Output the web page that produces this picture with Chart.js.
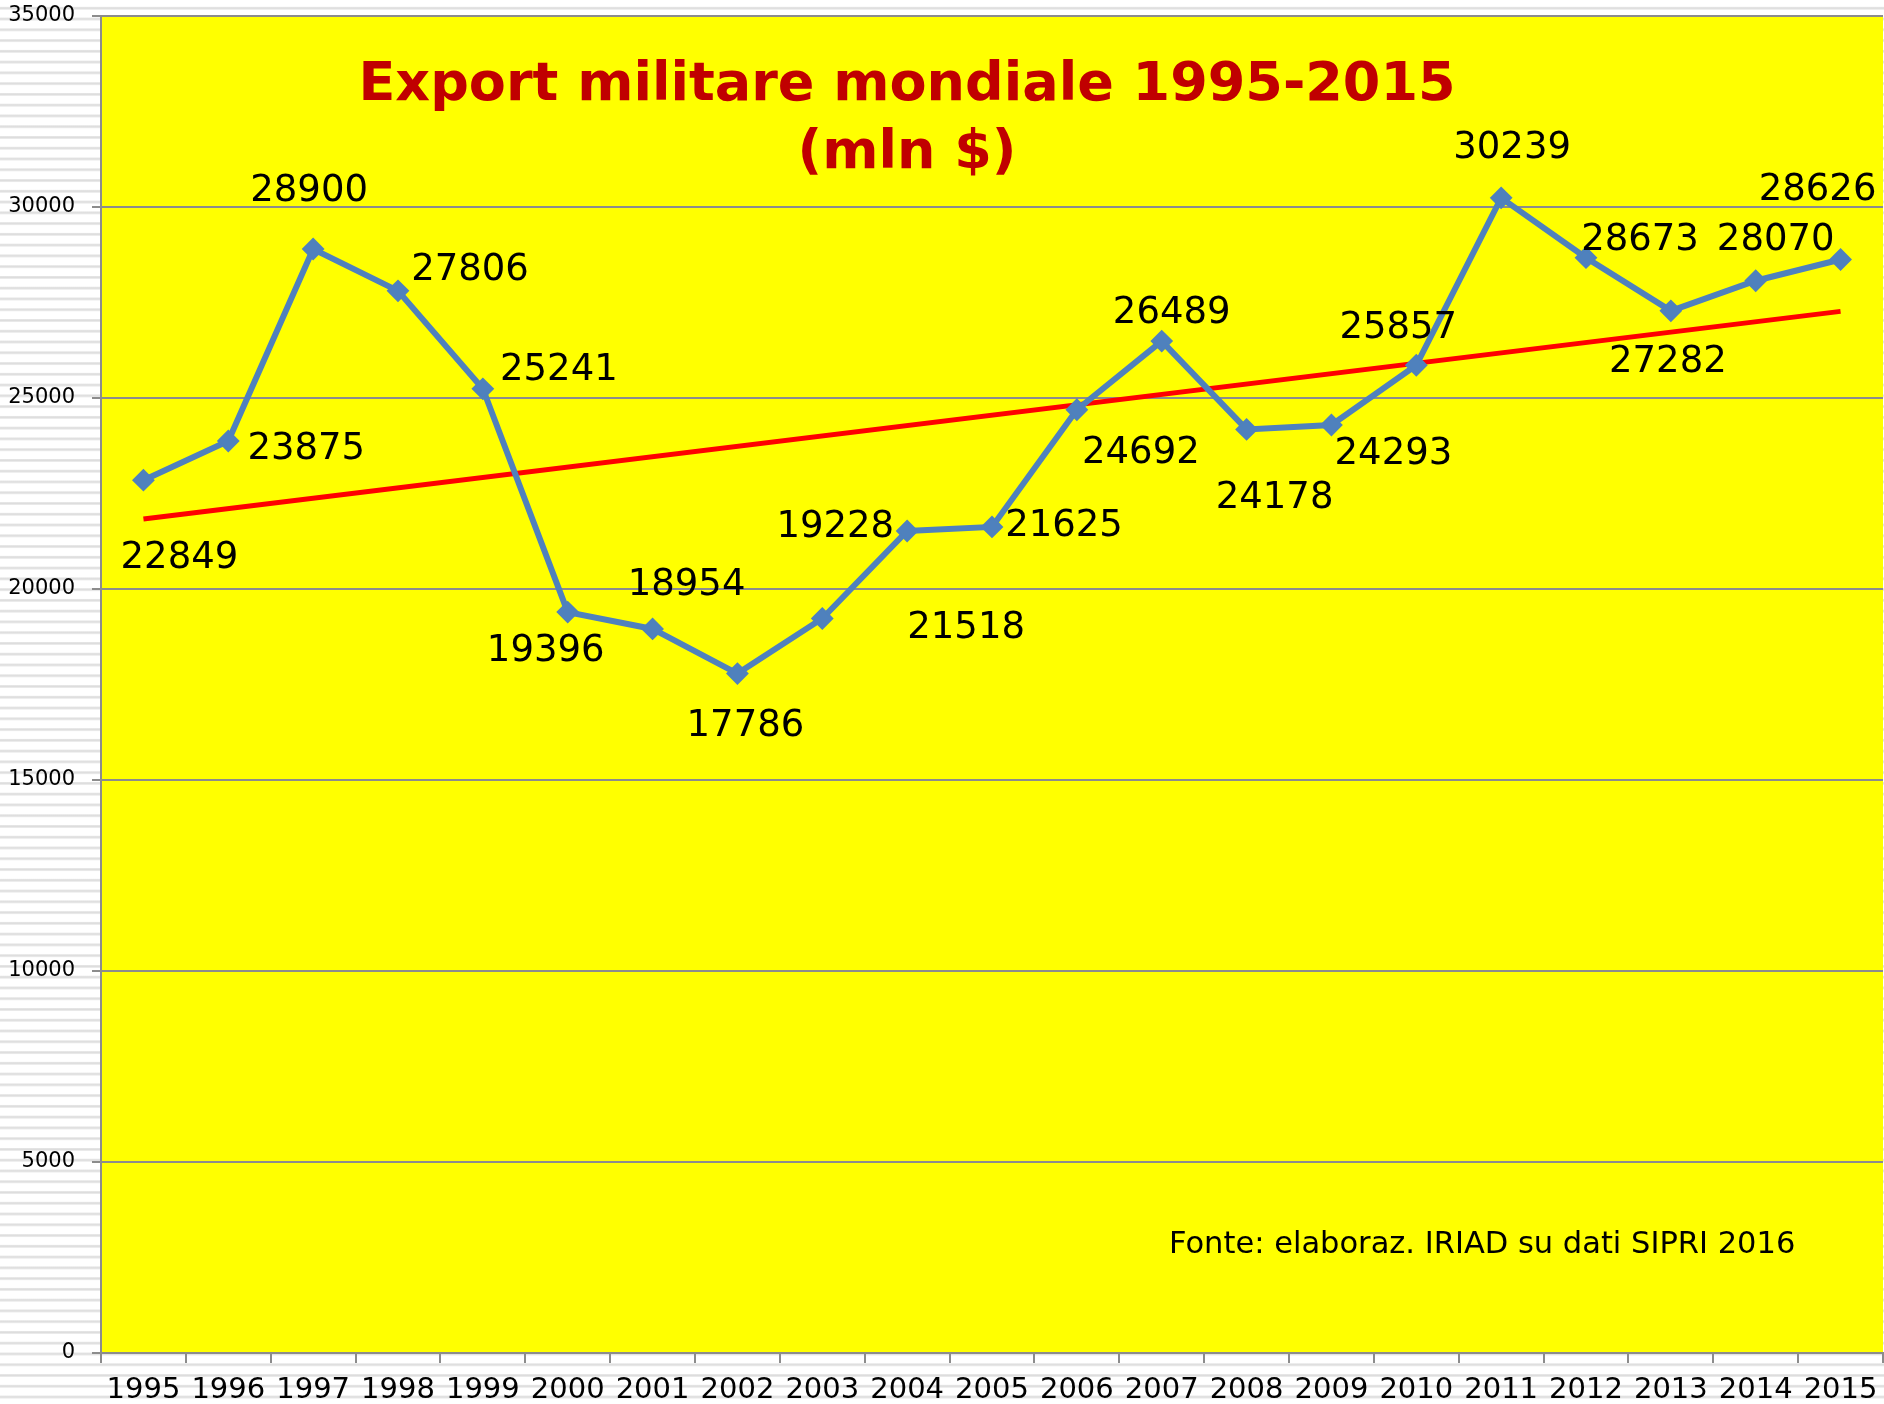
<!DOCTYPE html>
<html>
<head>
<meta charset="utf-8">
<script src="https://cdn.jsdelivr.net/npm/chart.js@4.4.1/dist/chart.umd.min.js"></script>
<style>
  html, body { margin: 0; padding: 0; }
  body {
    width: 1884px; height: 1404px; overflow: hidden;
    background-color: #ffffff;
    background-image: linear-gradient(to bottom, #ffffff 0px, #ffffff 6.8px, #ebebeb 6.8px, #dddddd 7.8px, #dddddd 8.6px, #ebebeb 9.4px, #ffffff 9.4px);
    background-size: 100% 10.77px;
  }
  #wrap { position: absolute; left: 0; top: 0; width: 1884px; height: 1404px; }
</style>
</head>
<body>
<div id="wrap"><canvas id="c" width="1884" height="1404"></canvas></div>
<script>
// ---- data ----
const years = ['1995','1996','1997','1998','1999','2000','2001','2002','2003','2004','2005',
               '2006','2007','2008','2009','2010','2011','2012','2013','2014','2015'];
const exportValues = [22849, 23875, 28900, 27806, 25241, 19396, 18954, 17786, 19228, 21518, 21625,
                      24692, 26489, 24178, 24293, 25857, 30239, 28673, 27282, 28070, 28626];
const trendYears = ['1995', '2015'];
const trendValues = [21835, 27268];
const yTicks = [0, 5000, 10000, 15000, 20000, 25000, 30000, 35000];
const titleLines = ['Export militare mondiale 1995-2015', '(mln $)'];
const sourceNote = 'Fonte: elaboraz. IRIAD su dati SIPRI 2016';

// ---- label placement (style, pixel offsets from each point) ----
const labelDX = [36, 78, -4, 72, 76, -22, 34, 8, 13, 59, 72, 64, 10, 28, 62, -18, 11, 54, -3, 20, -23];
const labelDY = [74, 5, -62, -24, -22, 35, -47, 49, -95, 93, -4, 40, -32, 65, 25, -41, -53, -21, 48, -44, -73];

const FONT = "'DejaVu Sans', Verdana, sans-serif";
const GRID = '#8c8c8c';
const BLUE = '#4F81BD';

const plotBg = {
  id: 'plotBg',
  beforeDraw(chart) {
    const a = chart.chartArea, ctx = chart.ctx;
    ctx.save();
    ctx.fillStyle = '#FFFF00';
    ctx.fillRect(a.left, a.top, a.right - a.left, a.bottom - a.top);
    ctx.restore();
  }
};

const valueLabels = {
  id: 'valueLabels',
  afterDatasetsDraw(chart) {
    const ctx = chart.ctx;
    const meta = chart.getDatasetMeta(0);
    const size = 37;
    ctx.save();
    ctx.font = size + 'px ' + FONT;
    ctx.fillStyle = '#000000';
    ctx.textAlign = 'center';
    ctx.textBaseline = 'alphabetic';
    meta.data.forEach((pt, i) => {
      const cx = pt.x + labelDX[i];
      const cy = pt.y + labelDY[i];
      ctx.fillText(String(exportValues[i]), cx, cy + 0.365 * size);
    });
    ctx.restore();
  }
};

const texts = {
  id: 'texts',
  afterDraw(chart) {
    const ctx = chart.ctx;
    ctx.save();
    ctx.fillStyle = '#C00000';
    ctx.font = 'bold 54px ' + FONT;
    ctx.textAlign = 'center';
    ctx.textBaseline = 'alphabetic';
    ctx.fillText(titleLines[0], 907, 100);
    ctx.fillText(titleLines[1], 907, 168);
    ctx.fillStyle = '#000000';
    ctx.font = '30.5px ' + FONT;
    ctx.textAlign = 'left';
    ctx.fillText(sourceNote, 1169, 1253);
    ctx.restore();
  }
};

new Chart(document.getElementById('c'), {
  type: 'line',
  data: {
    labels: years,
    datasets: [
      {
        label: 'Export',
        data: exportValues,
        borderColor: BLUE,
        backgroundColor: BLUE,
        borderWidth: 6,
        pointStyle: 'rectRot',
        pointRadius: 10,
        pointBorderWidth: 2,
        pointBorderColor: BLUE,
        pointBackgroundColor: BLUE,
        tension: 0,
        fill: false
      },
      {
        label: 'Trend',
        data: trendYears.map((y, i) => ({ x: y, y: trendValues[i] })),
        borderColor: '#FF0000',
        borderWidth: 5,
        pointRadius: 0,
        tension: 0,
        fill: false
      }
    ]
  },
  options: {
    responsive: false,
    animation: false,
    events: [],
    layout: { autoPadding: false, padding: { top: 16, right: 1, left: 0, bottom: 0 } },
    plugins: {
      legend: { display: false },
      title: { display: false },
      tooltip: { enabled: false }
    },
    scales: {
      x: {
        type: 'category',
        offset: true,
        afterFit(s) { s.height = 51; s.paddingLeft = 0; s.paddingRight = 0; },
        grid: { offset: true, drawOnChartArea: false, drawTicks: true, tickLength: 10, color: GRID, lineWidth: 2 },
        border: { display: true, color: GRID, width: 2 },
        ticks: { color: '#000', font: { family: FONT, size: 29 }, padding: 10, maxRotation: 0, autoSkip: false }
      },
      y: {
        min: 0,
        max: 35000,
        afterFit(s) { s.width = 101; s.paddingTop = 0; s.paddingBottom = 0; },
        afterBuildTicks(s) { s.ticks = yTicks.map(v => ({ value: v })); },
        grid: { color: GRID, lineWidth: 2, tickLength: 9, drawTicks: true },
        border: { display: true, color: GRID, width: 2 },
        ticks: { color: '#000', font: { family: FONT, size: 21 }, padding: 17, callback: v => String(v) }
      }
    }
  },
  plugins: [plotBg, valueLabels, texts]
});
</script>
</body>
</html>
